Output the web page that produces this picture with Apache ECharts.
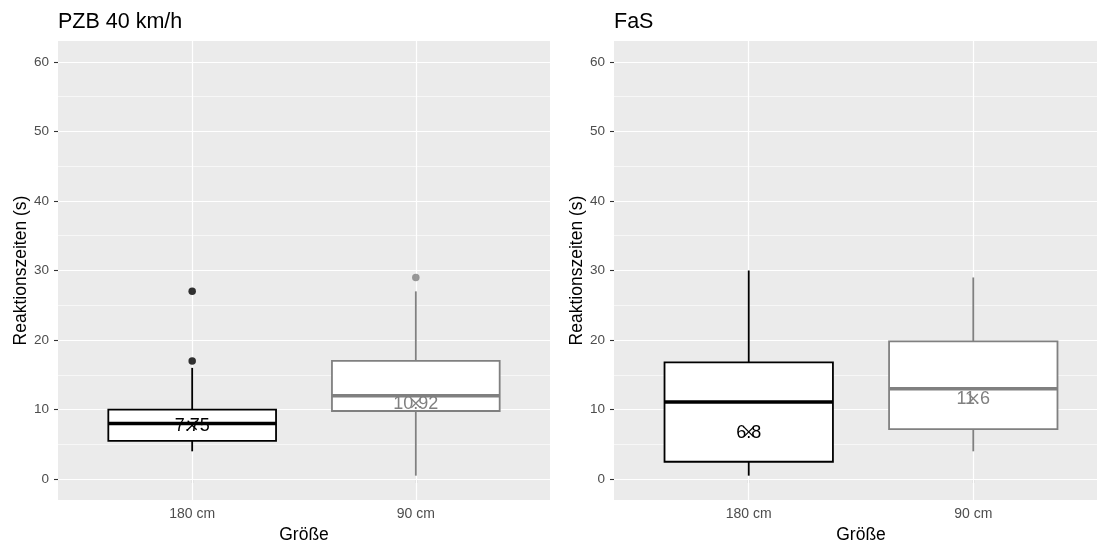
<!DOCTYPE html>
<html>
<head>
<meta charset="utf-8">
<script src="https://cdn.jsdelivr.net/npm/echarts@6/dist/echarts.min.js"></script>
<style>html,body{margin:0;padding:0;background:#fff}#c{width:1097px;height:543px}</style>
</head>
<body>
<div id="c"></div>
<script>
// ---- data ----
const categories = ['180 cm', '90 cm'];
const panelTitles = ['PZB 40 km/h', 'FaS'];
// [min whisker, Q1, median, Q3, max whisker] per category
const pzbBoxes = [[4, 5.5, 8, 10, 16], [0.5, 9.8, 12, 17, 27]];
const pzbOutliers = [[17, 27], [29]];
const pzbMeans = [7.75, 10.92];
const pzbMeanLabels = ['7.75', '10.92'];
const fasBoxes = [[0.5, 2.5, 11.1, 16.8, 30], [4, 7.2, 13, 19.8, 29]];
const fasOutliers = [[], []];
const fasMeans = [6.8, 11.6];
const fasMeanLabels = ['6.8', '11.6'];
const yTicks = [0, 10, 20, 30, 40, 50, 60];
const yMinor = [5, 15, 25, 35, 45, 55];
const xTicks = [1, 2];

const groupColors = ['#000000', '#808080'];
const FONT = 'Liberation Sans, Arial, sans-serif';

const chart = echarts.init(document.getElementById('c'), null, {renderer: 'canvas'});

const panels = [
  {boxes: pzbBoxes, outliers: pzbOutliers, means: pzbMeans, labels: pzbMeanLabels},
  {boxes: fasBoxes, outliers: fasOutliers, means: fasMeans, labels: fasMeanLabels}
];

const grids = [
  {left: 58, top: 41, width: 492, height: 459},
  {left: 614, top: 41, width: 494, height: 459}
];

const xAxes = [], yAxes = [], series = [], titles = [];

panels.forEach((p, i) => {
  titles.push({
    text: panelTitles[i], left: grids[i].left, top: 11, padding: 0,
    textStyle: {fontFamily: FONT, fontSize: 21.5, fontWeight: 'normal', color: '#000'}
  });
  xAxes.push({
    type: 'value', gridIndex: i, min: 0.4, max: 2.6,
    name: 'Größe', nameLocation: 'middle', nameGap: 21,
    nameTextStyle: {fontFamily: FONT, fontSize: 17.5, color: '#000'},
    axisLine: {show: false},
    splitLine: {show: false},
    axisTick: {show: true, length: 4, customValues: xTicks, lineStyle: {color: '#333', width: 1.1}},
    axisLabel: {customValues: xTicks, margin: 7, fontFamily: FONT, fontSize: 14, color: '#4d4d4d',
      formatter: v => categories[Math.round(v) - 1] || ''}
  });
  yAxes.push({
    type: 'value', gridIndex: i, min: -3, max: 63,
    name: 'Reaktionszeiten (s)', nameLocation: 'middle', nameGap: 27,
    nameTextStyle: {fontFamily: FONT, fontSize: 17.5, color: '#000'},
    axisLine: {show: false},
    splitLine: {show: false},
    axisTick: {show: true, length: 4, customValues: yTicks, lineStyle: {color: '#333', width: 1.1}},
    axisLabel: {customValues: yTicks, margin: 9, fontFamily: FONT, fontSize: 13.5, color: '#4d4d4d'}
  });

  // background grid lines through markLine
  const ml = [];
  yMinor.forEach(v => ml.push({yAxis: v, lineStyle: {color: '#fff', width: 0.6, type: 'solid'}}));
  yTicks.forEach(v => ml.push({yAxis: v, lineStyle: {color: '#fff', width: 1.2, type: 'solid'}}));
  xTicks.forEach(v => ml.push({xAxis: v, lineStyle: {color: '#fff', width: 1.2, type: 'solid'}}));
  series.push({
    type: 'line', xAxisIndex: i, yAxisIndex: i, data: [], silent: true, z: 1,
    markLine: {silent: true, z: 1, symbol: 'none', label: {show: false}, animation: false, data: ml}
  });

  // boxes
  series.push({
    type: 'custom', xAxisIndex: i, yAxisIndex: i, z: 10,
    data: p.boxes.map((b, k) => [k + 1, b[0], b[1], b[2], b[3], b[4], k]),
    renderItem: function (params, api) {
      const x = api.value(0);
      const c = groupColors[api.value(6)];
      const pMin = api.coord([x, api.value(1)]);
      const pQ1 = api.coord([x, api.value(2)]);
      const pMed = api.coord([x, api.value(3)]);
      const pQ3 = api.coord([x, api.value(4)]);
      const pMax = api.coord([x, api.value(5)]);
      const half = api.size([0.75, 0])[0] / 2;
      const lw = 1.8;
      return {
        type: 'group',
        children: [
          {type: 'line', shape: {x1: pMax[0], y1: pMax[1], x2: pQ3[0], y2: pQ3[1]}, style: {stroke: c, lineWidth: lw}},
          {type: 'line', shape: {x1: pQ1[0], y1: pQ1[1], x2: pMin[0], y2: pMin[1]}, style: {stroke: c, lineWidth: lw}},
          {type: 'rect', shape: {x: pQ3[0] - half, y: pQ3[1], width: 2 * half, height: pQ1[1] - pQ3[1]},
            style: {fill: '#fff', stroke: c, lineWidth: lw}},
          {type: 'line', shape: {x1: pMed[0] - half, y1: pMed[1], x2: pMed[0] + half, y2: pMed[1]},
            style: {stroke: c, lineWidth: 3.4}}
        ]
      };
    }
  });

  // outliers
  p.outliers.forEach((arr, k) => {
    series.push({
      type: 'scatter', xAxisIndex: i, yAxisIndex: i, z: 11, symbolSize: 7.5,
      itemStyle: {color: groupColors[k]},
      data: arr.map(v => [k + 1, v])
    });
  });

  // means with label and x marker
  series.push({
    type: 'custom', xAxisIndex: i, yAxisIndex: i, z: 12,
    data: p.means.map((m, k) => [k + 1, m, k]),
    renderItem: function (params, api) {
      const k = api.value(2);
      const c = groupColors[k];
      const pt = api.coord([api.value(0), api.value(1)]);
      const s = 4.5;
      return {
        type: 'group',
        children: [
          {type: 'text', style: {text: p.labels[k], x: pt[0], y: pt[1] + 1, fill: c,
            font: '18px ' + FONT, align: 'center', verticalAlign: 'middle',
            textAlign: 'center', textVerticalAlign: 'middle'}},
          {type: 'line', shape: {x1: pt[0] - s, y1: pt[1] - s, x2: pt[0] + s, y2: pt[1] + s}, style: {stroke: c, lineWidth: 1.3}},
          {type: 'line', shape: {x1: pt[0] - s, y1: pt[1] + s, x2: pt[0] + s, y2: pt[1] - s}, style: {stroke: c, lineWidth: 1.3}}
        ]
      };
    }
  });
});

chart.setOption({
  animation: false,
  backgroundColor: '#fff',
  title: titles,
  grid: grids.map(g => Object.assign({show: true, backgroundColor: '#EBEBEB', borderWidth: 0,
    containLabel: false, outerBoundsMode: 'none'}, g)),
  xAxis: xAxes,
  yAxis: yAxes,
  series: series
});
</script>
</body>
</html>
